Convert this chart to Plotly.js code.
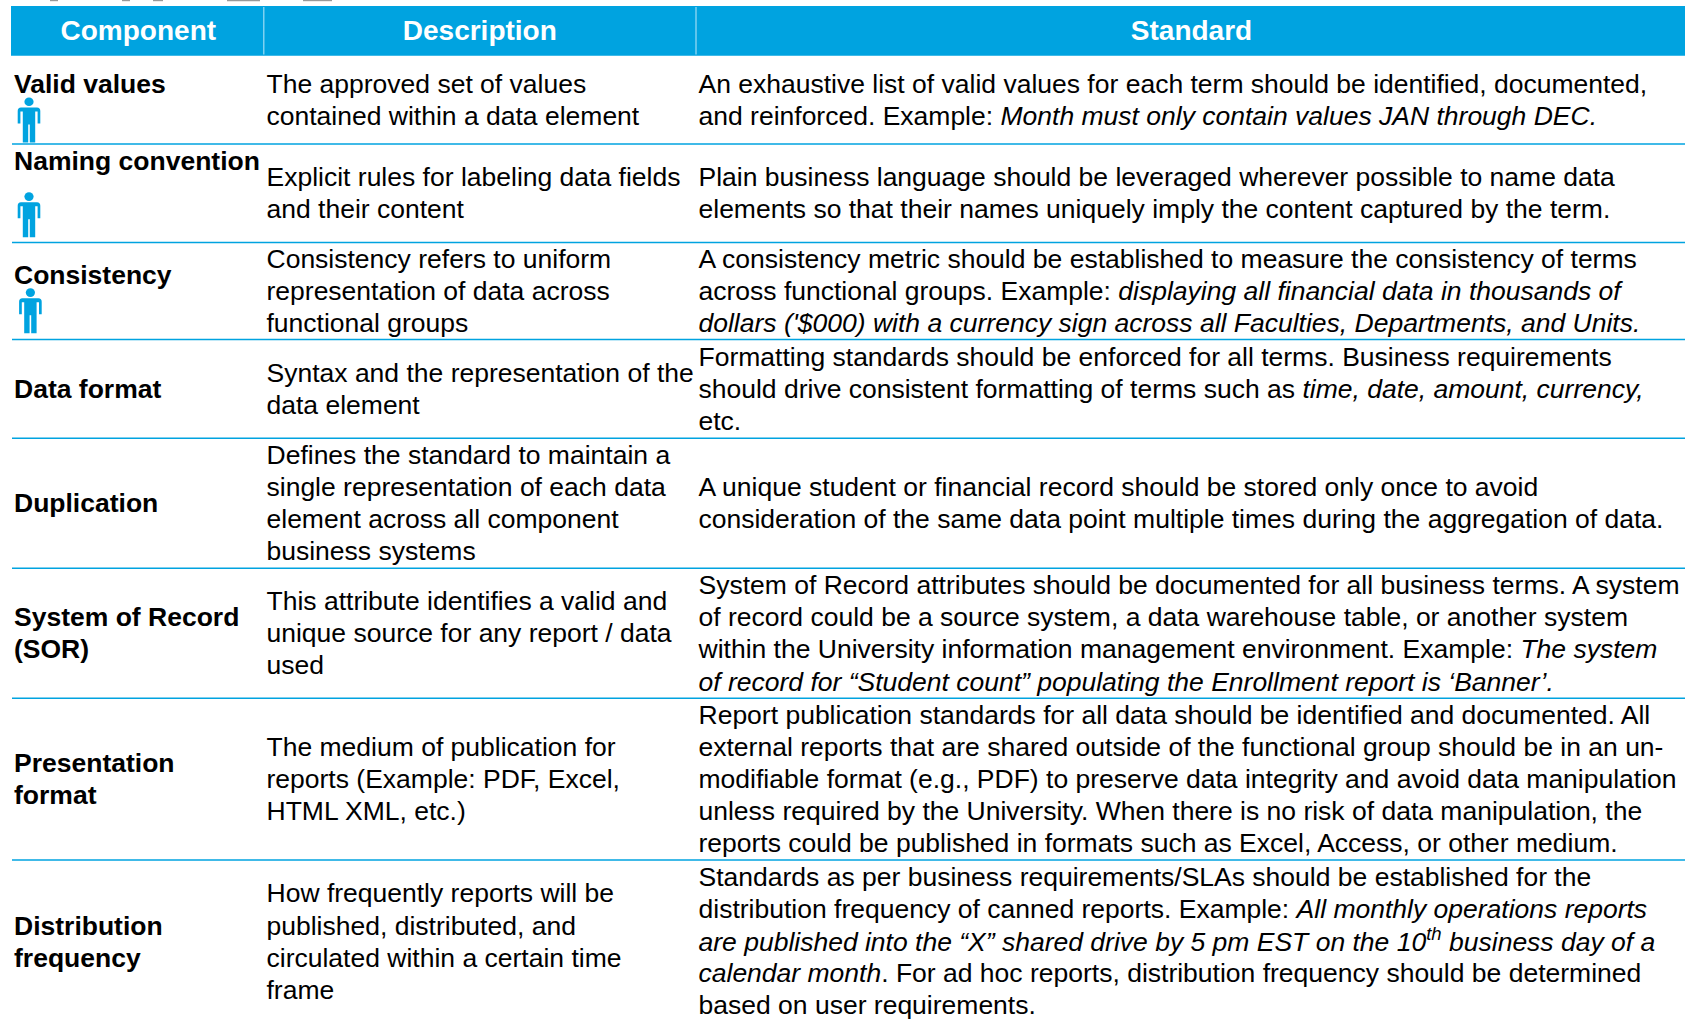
<!DOCTYPE html>
<html><head><meta charset="utf-8">
<script src="https://cdn.plot.ly/plotly-3.0.1.min.js"></script>
<style>html,body{margin:0;padding:0;background:#fff}</style></head>
<body><div id="chart" style="width:1685px;height:1020px"></div>
<script>
// ---- table content ----
const headers = ['Component', 'Description', 'Standard'];
const components = ['Valid values', 'Naming convention', 'Consistency', 'Data format', 'Duplication',
  'System of Record', '(SOR)', 'Presentation', 'format', 'Distribution', 'frequency'];
const descriptions = [
  'The approved set of values', 'contained within a data element',
  'Explicit rules for labeling data fields', 'and their content',
  'Consistency refers to uniform', 'representation of data across', 'functional groups',
  'Syntax and the representation of the', 'data element',
  'Defines the standard to maintain a', 'single representation of each data', 'element across all component', 'business systems',
  'This attribute identifies a valid and', 'unique source for any report / data', 'used',
  'The medium of publication for', 'reports (Example: PDF, Excel,', 'HTML XML, etc.)',
  'How frequently reports will be', 'published, distributed, and', 'circulated within a certain time', 'frame'];
const standards = [
  'An exhaustive list of valid values for each term should be identified, documented,',
  'and reinforced. Example: <i>Month must only contain values JAN through DEC.</i>',
  'Plain business language should be leveraged wherever possible to name data',
  'elements so that their names uniquely imply the content captured by the term.',
  'A consistency metric should be established to measure the consistency of terms',
  'across functional groups. Example: <i>displaying all financial data in thousands of</i>',
  "<i>dollars ('$000) with a currency sign across all Faculties, Departments, and Units.</i>",
  'Formatting standards should be enforced for all terms. Business requirements',
  'should drive consistent formatting of terms such as <i>time, date, amount, currency,</i>',
  'etc.',
  'A unique student or financial record should be stored only once to avoid',
  'consideration of the same data point multiple times during the aggregation of data.',
  'System of Record attributes should be documented for all business terms. A system',
  'of record could be a source system, a data warehouse table, or another system',
  'within the University information management environment. Example: <i>The system</i>',
  '<i>of record for “Student count” populating the Enrollment report is ‘Banner’.</i>',
  'Report publication standards for all data should be identified and documented. All',
  'external reports that are shared outside of the functional group should be in an un-',
  'modifiable format (e.g., PDF) to preserve data integrity and avoid data manipulation',
  'unless required by the University. When there is no risk of data manipulation, the',
  'reports could be published in formats such as Excel, Access, or other medium.',
  'Standards as per business requirements/SLAs should be established for the',
  'distribution frequency of canned reports. Example: <i>All monthly operations reports</i>',
  '<i>are published into the “X” shared drive by 5 pm EST on the 10<sup>th</sup> business day of a</i>',
  '<i>calendar month</i>. For ad hoc reports, distribution frequency should be determined',
  'based on user requirements.'];

// ---- layout (pixel-scale axes) ----
const componentY = [94, 170.7, 285, 398.7, 512.7, 626.7, 658.5, 772.7, 804.7, 935.7, 967.7];
const descriptionY = [94, 126, 186.7, 219, 268.7, 300.7, 332.7, 382.7, 415, 464.7, 496.7, 528.7, 560.7,
  610.7, 642.7, 674.5, 756.7, 788.7, 821, 903.3, 935.7, 967.7, 1000];
const standardY = [94, 126, 186.7, 219, 268.7, 300.7, 332.7, 366.7, 399, 430.7, 496.7, 528.7,
  595, 626.7, 659, 691.7, 725, 756.7, 788.7, 820.7, 852.7, 887.3, 919.3, 951.7, 983.3, 1015.3];
const ruleY = [144, 242.4, 339.6, 438.3, 568.3, 698.3, 860];
const iconTop = [[29, 97.4], [29, 192.3], [30.4, 288.3]];
const cutOffTitle = [[50, 58], [122, 130], [153, 163], [227, 260], [303, 332]];
const BLUE = '#00A3E0', FS = 26.5, FS_HEAD = 28;
const FONT = '"Liberation Sans", Arial, sans-serif';

function textTrace(xs, ys, text, size, color, pos) {
  return {type: 'scatter', mode: 'text', x: xs, y: ys.map(v => v - size * 0.35 + 1.7), text: text,
    textposition: pos, textfont: {size: size, color: color, family: FONT},
    hoverinfo: 'skip', showlegend: false, cliponaxis: false};
}
const traces = [
  textTrace([138.3, 479.8, 1191.5], [41, 41, 41], headers.map(h => '<b>' + h + '</b>'), FS_HEAD, '#fff', 'middle center'),
  textTrace(components.map(() => 14), componentY, components.map(c => '<b>' + c + '</b>'), FS, '#000', 'middle right'),
  textTrace(descriptions.map(() => 266.5), descriptionY, descriptions, FS, '#000', 'middle right'),
  textTrace(standards.map(() => 698.5), standardY, standards, FS, '#000', 'middle right')
];

const shapes = [
  {type: 'rect', x0: 11, x1: 1685, y0: 6, y1: 55.7, fillcolor: BLUE, line: {width: 0}, layer: 'below'},
  {type: 'line', x0: 263.8, x1: 263.8, y0: 7, y1: 54.5, line: {color: '#9fdcf4', width: 1.2}, layer: 'below'},
  {type: 'line', x0: 696, x1: 696, y0: 7, y1: 54.5, line: {color: '#9fdcf4', width: 1.2}, layer: 'below'}
];
cutOffTitle.forEach(([a, b]) => shapes.push({type: 'rect', x0: a, x1: b, y0: 0, y1: 1.2, fillcolor: '#999999', line: {width: 0}, layer: 'below'}));
ruleY.forEach(y => shapes.push({type: 'line', x0: 12, x1: 1685, y0: y, y1: y, line: {color: BLUE, width: 1.5}, layer: 'below'}));
iconTop.forEach(([cx, t]) => {
  shapes.push({type: 'circle', x0: cx - 4.6, x1: cx + 4.6, y0: t, y1: t + 8.6, fillcolor: BLUE, line: {width: 0}, layer: 'below'});
  const p = (dx, dy) => (cx + dx) + ',' + (t + dy);
  const path = 'M' + p(-8, 10) + ' L' + p(8, 10) + ' Q' + p(11.3, 10) + ' ' + p(11.3, 13.5) +
    ' L' + p(11.3, 26) + ' L' + p(8.6, 26) + ' L' + p(8.6, 14) + ' L' + p(6.2, 14) +
    ' L' + p(6.2, 45) + ' L' + p(0.8, 45) + ' L' + p(0.8, 27) + ' L' + p(-0.8, 27) +
    ' L' + p(-0.8, 45) + ' L' + p(-6.2, 45) + ' L' + p(-6.2, 14) + ' L' + p(-8.6, 14) +
    ' L' + p(-8.6, 26) + ' L' + p(-11.3, 26) + ' L' + p(-11.3, 13.5) + ' Q' + p(-11.3, 10) + ' ' + p(-8, 10) + ' Z';
  shapes.push({type: 'path', path: path, fillcolor: BLUE, line: {width: 0}, layer: 'below'});
});

const axis = {visible: false, showgrid: false, zeroline: false, fixedrange: true};
Plotly.newPlot('chart', traces, {
  width: 1685, height: 1020, margin: {l: 0, r: 0, t: 0, b: 0},
  paper_bgcolor: '#fff', plot_bgcolor: '#fff', showlegend: false, shapes: shapes,
  xaxis: Object.assign({range: [0, 1685]}, axis),
  yaxis: Object.assign({range: [1020, 0]}, axis)
}, {displayModeBar: false, staticPlot: true});
</script></body></html>
